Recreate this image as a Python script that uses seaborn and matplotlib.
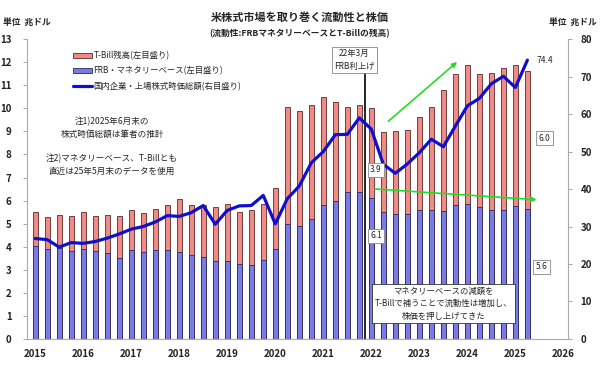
import numpy as np
import pandas as pd
import seaborn as sns
import matplotlib.pyplot as plt
from matplotlib.patches import Patch
from matplotlib.lines import Line2D

# quarterly observations, 2015Q1 .. 2025Q2
quarters = pd.period_range("2015Q1", "2025Q2", freq="Q")

# liquidity total = FRB monetary base + T-Bill (trillion USD, left axis)
liquidity_total = [5.50, 5.29, 5.38, 5.34, 5.50, 5.32, 5.37, 5.34, 5.60, 5.47,
                   5.65, 5.80, 6.07, 5.80, 5.80, 5.73, 5.86, 5.52, 5.57, 5.86,
                   6.54, 10.04, 9.88, 10.14, 10.47, 10.27, 10.07, 10.16, 10.01, 8.99,
                   9.03, 9.06, 9.61, 10.04, 10.79, 11.47, 11.90, 11.47, 11.54, 11.73,
                   11.90, 11.61]
# FRB monetary base (trillion USD, left axis)
monetary_base = [4.01, 3.89, 3.94, 3.82, 3.89, 3.82, 3.72, 3.52, 3.85, 3.76,
                 3.87, 3.84, 3.79, 3.63, 3.56, 3.39, 3.39, 3.26, 3.20, 3.43,
                 3.89, 4.98, 4.88, 5.19, 5.81, 6.00, 6.36, 6.39, 6.10, 5.50,
                 5.41, 5.41, 5.57, 5.60, 5.55, 5.81, 5.86, 5.71, 5.57, 5.60,
                 5.76, 5.64]
# US listed stock market cap (trillion USD, right axis)
market_cap = [26.8, 26.5, 24.5, 25.7, 25.5, 26.0, 26.9, 28.0, 29.3, 30.0,
              31.2, 32.9, 32.7, 33.7, 35.6, 30.6, 34.3, 35.5, 35.6, 38.3,
              30.7, 37.4, 40.8, 47.0, 50.0, 54.5, 54.6, 59.0, 56.0, 46.6,
              44.2, 46.7, 49.7, 53.3, 51.3, 56.8, 62.2, 64.2, 68.1, 70.1,
              67.1, 74.4]

year_ticks = list(range(2015, 2027))

red = "#F08A86"
blue = "#7B7BE6"
line_blue = "#1010CC"

xpos = quarters.year + (quarters.quarter - 1) / 4.0
df = pd.DataFrame({"x": xpos, "total": liquidity_total,
                   "base": monetary_base, "mcap": market_cap})

sns.set_style("white")
plt.rcParams['font.family'] = ['Noto Sans CJK JP', 'DejaVu Sans']

fig = plt.figure(figsize=(6, 3.66), dpi=100)
ax = fig.add_axes([0.045, 0.074, 0.902, 0.819])

sns.barplot(data=df, x="x", y="total", native_scale=True, width=0.44,
            color=red, saturation=1, edgecolor="#5a2a2a", linewidth=0.6,
            errorbar=None, ax=ax)
sns.barplot(data=df, x="x", y="base", native_scale=True, width=0.44,
            color=blue, saturation=1, edgecolor="#2a2a5a", linewidth=0.6,
            errorbar=None, ax=ax)

ax.set_xlim(2014.83, 2026.1)
ax.set_ylim(0, 13)
ax.set_yticks(range(0, 14))
ax.set_xticks(year_ticks)
ax.set_xlabel("")
ax.set_ylabel("")

ax2 = ax.twinx()
sns.lineplot(data=df, x="x", y="mcap", color=line_blue, linewidth=2.3, ax=ax2)
ax2.set_ylim(0, 80)
ax2.set_yticks(range(0, 81, 10))
ax2.set_xlim(2014.83, 2026.1)
ax2.set_ylabel("")

for a in (ax, ax2):
    for s in a.spines.values():
        s.set_visible(False)
    a.tick_params(labelsize=7, colors="#222222", length=3, width=0.6,
                  color="#999999")
    for lab in a.get_xticklabels() + a.get_yticklabels():
        lab.set_fontweight("bold")
ax.spines["left"].set_visible(True)
ax.spines["bottom"].set_visible(True)
ax2.spines["right"].set_visible(True)
for s in (ax.spines["left"], ax.spines["bottom"], ax2.spines["right"]):
    s.set_color("#aaaaaa")
    s.set_linewidth(0.8)
ax.tick_params(axis="y", pad=8)
ax.tick_params(axis="x", pad=4)
ax2.tick_params(axis="y", pad=6)

# legend
handles = [Patch(facecolor=red, edgecolor="#5a2a2a", linewidth=0.6),
           Patch(facecolor=blue, edgecolor="#2a2a5a", linewidth=0.6),
           Line2D([], [], color=line_blue, linewidth=2.3)]
labels = ["T-Bill残高(左目盛り)", "FRB・マネタリーベース(左目盛り)",
          "国内企業・上場株式時価総額(右目盛り)"]
ax2.legend(handles, labels, loc="upper left", bbox_to_anchor=(0.072, 0.985),
           frameon=False, fontsize=6, handlelength=2.2, handleheight=0.5,
           handletextpad=0.2, labelspacing=0.75)

# titles
fig.text(0.5, 0.953, "米株式市場を取り巻く流動性と株価", ha="center", va="center",
         fontsize=8, fontweight="bold")
fig.text(0.5, 0.908, "(流動性:FRBマネタリーベースとT-Billの残高)", ha="center",
         va="center", fontsize=6.3, fontweight="bold")
fig.text(0.005, 0.935, "単位  兆ドル", ha="left", va="center", fontsize=6.3,
         fontweight="bold")
fig.text(0.995, 0.935, "単位  兆ドル", ha="right", va="center", fontsize=6.3,
         fontweight="bold")

# notes
ax.text(2016.6, 9.15, "注1)2025年6月末の\n株式時価総額は筆者の推計", ha="center",
        va="center", fontsize=6.2, linespacing=1.5)
ax.text(2016.6, 7.55, "注2)マネタリーベース、T-Billとも\n直近は25年5月末のデータを使用",
        ha="center", va="center", fontsize=6.2, linespacing=1.5)

box = dict(boxstyle="square,pad=0.3", fc="white", ec="#888888", lw=0.6)

# rate hike marker
ax.plot([2021.875, 2021.875], [0, 11.6], color="black", linewidth=1.2, zorder=5)
ax2.text(2021.65, 74.4, "22年3月\nFRB利上げ", ha="center", va="center",
         fontsize=6, bbox=box, linespacing=1.5, zorder=6)

# value labels
ax2.text(2025.45, 74.4, "74.4", ha="left", va="center", fontsize=6)
ax2.text(2022.1, 45.1, "3.9", ha="center", va="center", fontsize=6, bbox=box)
ax.text(2022.1, 4.47, "6.1", ha="center", va="center", fontsize=6, bbox=box,
        zorder=6)
ax.text(2025.6, 8.71, "6.0", ha="center", va="center", fontsize=6, bbox=box,
        zorder=6)
ax.text(2025.55, 3.13, "5.6", ha="center", va="center", fontsize=6, bbox=box,
        zorder=6)

# green arrows
arrow = dict(arrowstyle="-|>", color="#22DD22", lw=1.2, mutation_scale=7)
ax.annotate("", xy=(2023.83, 12.09), xytext=(2022.31, 9.36),
            arrowprops=arrow, zorder=6)
ax.annotate("", xy=(2025.5, 6.03), xytext=(2022.02, 6.51),
            arrowprops=arrow, zorder=6)

ax.text(2023.5, 1.53, "マネタリーベースの減額を\nT-Billで補うことで流動性は増加し、\n株価を押し上げてきた",
        ha="center", va="center", fontsize=6, linespacing=1.5, zorder=6,
        bbox=dict(boxstyle="square,pad=0.3", fc="white", ec="#333333", lw=0.6))

fig.savefig("out.png", dpi=100)
